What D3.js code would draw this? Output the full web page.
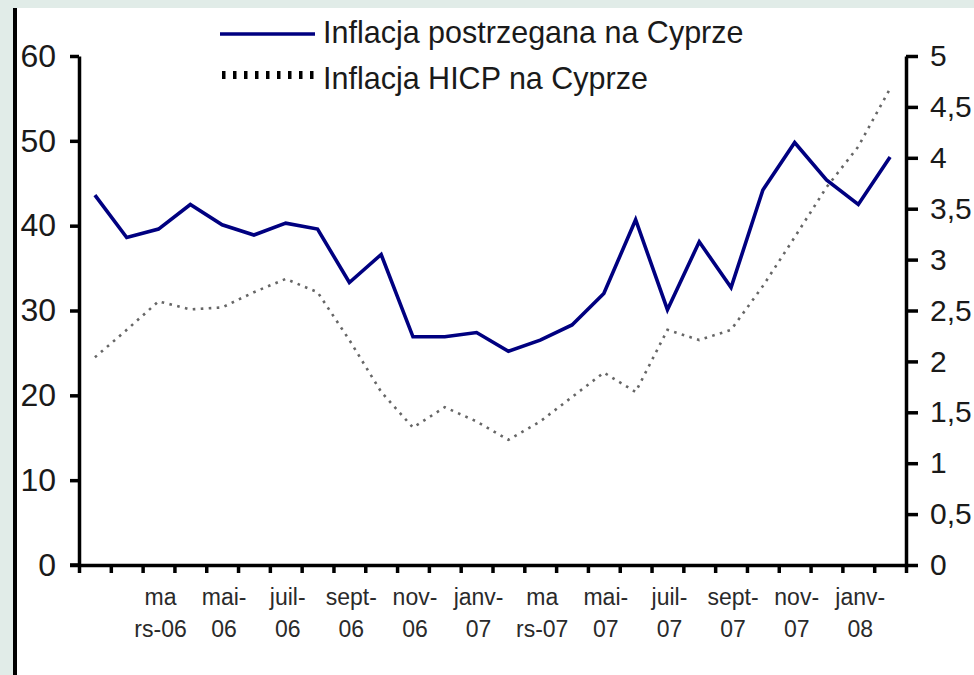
<!DOCTYPE html>
<html>
<head>
<meta charset="utf-8">
<script src="https://cdn.jsdelivr.net/npm/d3@7"></script>
<style>
  html, body { margin: 0; padding: 0; background: #fff; }
  svg { display: block; font-family: "Liberation Sans", Arial, sans-serif; }
</style>
</head>
<body>
<div id="chart"></div>
<script>
// months janv-06 .. févr-08
const months = ["janv-06","févr-06","mars-06","avr-06","mai-06","juin-06","juil-06","août-06",
  "sept-06","oct-06","nov-06","déc-06","janv-07","févr-07","mars-07","avr-07","mai-07","juin-07",
  "juil-07","août-07","sept-07","oct-07","nov-07","déc-07","janv-08","févr-08"];

// perceived inflation (left axis)
const perceived = [43.6, 38.6, 39.6, 42.5, 40.1, 38.9, 40.3, 39.6, 33.3, 36.6, 26.9, 26.9, 27.4,
  25.2, 26.5, 28.3, 32.0, 40.7, 30.1, 38.1, 32.7, 44.2, 49.8, 45.4, 42.5, 48.1];

// HICP inflation (right axis)
const hicp = [2.04, 2.31, 2.59, 2.51, 2.53, 2.68, 2.81, 2.68, 2.21, 1.70, 1.35, 1.55, 1.41,
  1.23, 1.41, 1.65, 1.89, 1.70, 2.31, 2.21, 2.31, 2.74, 3.22, 3.71, 4.11, 4.68];

// x labels, wrapped in two lines like the original
const labelIdx = [2, 4, 6, 8, 10, 12, 14, 16, 18, 20, 22, 24];
const labelTop = ["ma", "mai-", "juil-", "sept-", "nov-", "janv-", "ma", "mai-", "juil-", "sept-", "nov-", "janv-"];
const labelBottom = ["rs-06", "06", "06", "06", "06", "07", "rs-07", "07", "07", "07", "07", "08"];

const leftTicks = [0, 10, 20, 30, 40, 50, 60];
const rightTicks = [0, 0.5, 1, 1.5, 2, 2.5, 3, 3.5, 4, 4.5, 5];

const seriesNames = ["Inflacja postrzegana na Cyprze", "Inflacja HICP na Cyprze"];

const W = 974, H = 675;
const plot = {left: 79, right: 906, top: 56, bottom: 565};

const svg = d3.select("#chart")
  .append("svg")
    .attr("width", W)
    .attr("height", H);

// frame
svg.append("rect").attr("x", 0).attr("y", 0).attr("width", W).attr("height", 8).attr("fill", "#e1ece8");
svg.append("rect").attr("x", 0).attr("y", 0).attr("width", 13).attr("height", H).attr("fill", "#e1ece8");
svg.append("rect").attr("x", 13).attr("y", 8).attr("width", 4).attr("height", H - 8).attr("fill", "#000");

// scales
const x = d3.scaleBand().domain(months).range([plot.left, plot.right]);
const xIdx = d3.scaleLinear().domain([0, months.length]).range([plot.left, plot.right]);
const yL = d3.scaleLinear().domain([0, 60]).range([plot.bottom, plot.top]);
const yR = d3.scaleLinear().domain([0, 5]).range([plot.bottom, plot.top]);

// left axis
const axL = svg.append("g")
  .attr("transform", `translate(${plot.left},0)`)
  .call(d3.axisLeft(yL).tickValues(leftTicks).tickSize(9).tickSizeOuter(0).tickPadding(14));

// right axis
const axR = svg.append("g")
  .attr("transform", `translate(${plot.right},0)`)
  .call(d3.axisRight(yR).tickValues(rightTicks).tickSize(12).tickSizeOuter(0).tickPadding(12)
    .tickFormat(d => String(d).replace(".", ",")));

// bottom axis, ticks on band edges
const axB = svg.append("g")
  .attr("transform", `translate(0,${plot.bottom})`)
  .call(d3.axisBottom(xIdx).tickValues(d3.range(months.length + 1)).tickSize(8).tickSizeOuter(0).tickFormat(""));

svg.append("line")
  .attr("x1", plot.left - 9).attr("x2", plot.left)
  .attr("y1", plot.bottom).attr("y2", plot.bottom)
  .attr("stroke", "#000").attr("stroke-width", 3.5);

[axL, axR, axB].forEach(a => {
  a.selectAll("path.domain").attr("stroke", "#000").attr("stroke-width", 3.5);
  a.selectAll(".tick line").attr("stroke", "#000").attr("stroke-width", 3.5);
});
axL.selectAll(".tick text")
  .attr("font-size", 32)
  .attr("fill", "#1a1a1a")
  .attr("font-family", "Liberation Sans, Arial, sans-serif");
axR.selectAll(".tick text")
  .attr("font-size", 30)
  .attr("fill", "#1a1a1a")
  .attr("font-family", "Liberation Sans, Arial, sans-serif");

// x labels
const xl = svg.append("g").selectAll("text")
  .data(labelIdx)
  .join("text")
    .attr("text-anchor", "middle")
    .attr("font-size", 23)
    .attr("fill", "#2a2a2a");
xl.append("tspan")
  .attr("x", d => x(months[d]) + x.bandwidth() / 2 + 2)
  .attr("y", 605)
  .text((d, i) => labelTop[i]);
xl.append("tspan")
  .attr("x", d => x(months[d]) + x.bandwidth() / 2 + 2)
  .attr("y", 637)
  .text((d, i) => labelBottom[i]);

// lines
const cx = (d, i) => x(months[i]) + x.bandwidth() / 2;

svg.append("path")
  .datum(hicp)
  .attr("fill", "none")
  .attr("stroke", "#666")
  .attr("stroke-width", 2.6)
  .attr("stroke-dasharray", "2.6,5.4")
  .attr("d", d3.line().x(cx).y(d => yR(d)));

svg.append("path")
  .datum(perceived)
  .attr("fill", "none")
  .attr("stroke", "#000080")
  .attr("stroke-width", 3.6)
  .attr("stroke-linejoin", "miter")
  .attr("d", d3.line().x(cx).y(d => yL(d)));

// legend
const leg = svg.append("g");
leg.append("line")
  .attr("x1", 220).attr("x2", 315).attr("y1", 34).attr("y2", 34)
  .attr("stroke", "#000080").attr("stroke-width", 3.5);
leg.append("line")
  .attr("x1", 222).attr("x2", 316).attr("y1", 75).attr("y2", 75)
  .attr("stroke", "#000").attr("stroke-width", 8)
  .attr("stroke-dasharray", "3.5,7.5");
leg.selectAll("text")
  .data(seriesNames)
  .join("text")
    .attr("x", 323)
    .attr("y", (d, i) => i === 0 ? 43 : 89)
    .attr("font-size", 30.5)
    .attr("fill", "#1a1a1a")
    .text(d => d);
</script>
</body>
</html>
